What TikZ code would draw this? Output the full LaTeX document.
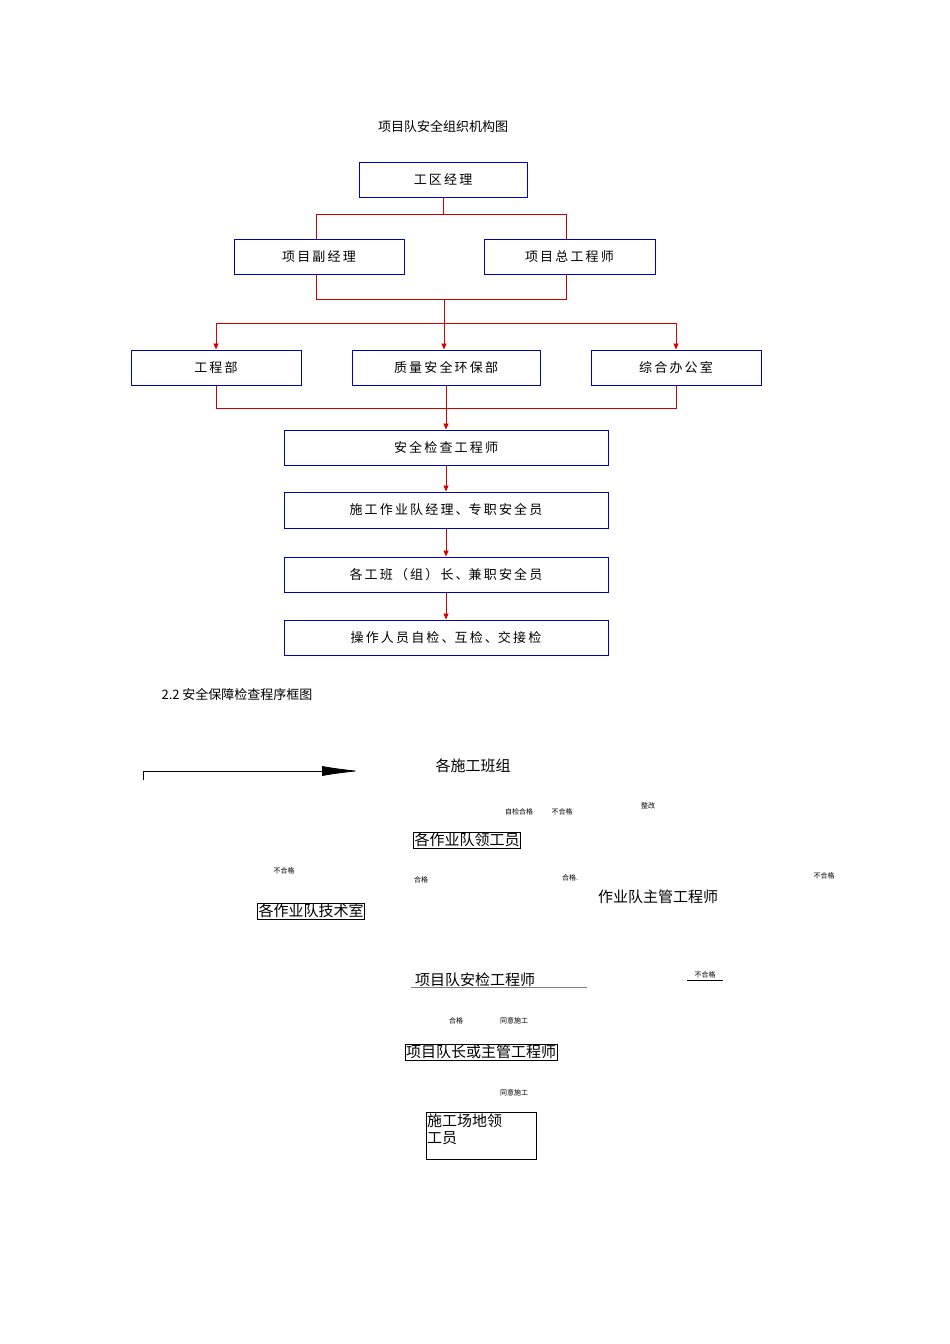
\documentclass[tikz,border=0pt]{standalone}
\usepackage{fontspec}
\setmainfont{Noto Sans CJK SC}
\usetikzlibrary{arrows.meta}
\begin{document}
\begin{tikzpicture}[x=1pt,y=-1pt,
  ob/.style={draw=blue!75!black,line width=1pt,inner sep=0pt,font=\fontsize{13}{15}\selectfont},
  rl/.style={draw=red!80!black,line width=0.9pt},
  ra/.style={rl,-{Triangle[length=6pt,width=5pt]},color=red!85!black},
  bx/.style={draw,line width=0.5pt,inner sep=1pt,font=\fontsize{15}{17}\selectfont},
  sm/.style={font=\fontsize{7}{8}\selectfont},
  bt/.style={font=\fontsize{15}{17}\selectfont}]
\useasboundingbox (0,0) rectangle (950,1344);
\node[font=\fontsize{13}{15}\selectfont] (t1) at (443,126) {项目队安全组织机构图};
\node[ob,minimum width=168,minimum height=35] (a) at (443,179.5) {工\,区\,经\,理};
\node[ob,minimum width=170,minimum height=35] (b) at (319,256.5) {项\,目\,副\,经\,理};
\node[ob,minimum width=171,minimum height=35] (c) at (569.5,256.5) {项\,目\,总\,工\,程\,师};
\node[ob,minimum width=170,minimum height=35] (d) at (216,367.5) {工\,程\,部};
\node[ob,minimum width=188,minimum height=35] (e) at (446,367.5) {质\,量\,安\,全\,环\,保\,部};
\node[ob,minimum width=170,minimum height=35] (f) at (676,367.5) {综\,合\,办\,公\,室};
\node[ob,minimum width=324,minimum height=35] (g) at (446,447.5) {安\,全\,检\,查\,工\,程\,师};
\node[ob,minimum width=324,minimum height=36] (h) at (446,510) {施\,工\,作\,业\,队\,经\,理\,、专\,职\,安\,全\,员};
\node[ob,minimum width=324,minimum height=35] (i) at (446,574.5) {各\,工\,班\,（\,组\,）\,长\,、兼\,职\,安\,全\,员};
\node[ob,minimum width=324,minimum height=35] (j) at (446,637.5) {操\,作\,人\,员\,自\,检\,、互\,检\,、交\,接\,检};
\draw[rl] (a.south) -- (443,214) -| (316,239);
\draw[rl] (443,214) -| (566,239);
\draw[rl] (316,274) |- (566,299) -- (566,274);
\coordinate (m) at (444,299);
\draw[ra] (m) -- (e.north -| m);
\draw[rl] (216,323) -- (676,323);
\draw[ra] (216,323) -- (d.north);
\draw[ra] (676,323) -- (f.north);
\draw[rl] (d.south) |- (676,408) -- (f.south);
\draw[ra] (e.south) -- (g.north);
\draw[ra] (g.south) -- (h.north);
\draw[ra] (h.south) -- (i.north);
\draw[ra] (i.south) -- (j.north);
\node[anchor=west,font=\fontsize{13}{15}\selectfont] (t2) at (158,694) {2.2 安全保障检查程序框图};
\coordinate (p0) at (143,780);
\coordinate (p1) at (360,771);
\draw[line width=0.8pt,-{Latex[length=38pt,width=10pt]}] (p0) |- (p1);
\node[bt] (k) at (473,766) {各施工班组};
\node[sm] at (519,812) {自检合格};
\node[sm] at (562,812) {不合格};
\node[sm] at (648,806) {整改};
\node[bx] (l) at (467,840) {各作业队领工员};
\node[sm] at (284,871) {不合格};
\node[sm] at (421,880) {合格};
\node[sm] at (570,878) {合格.};
\node[sm] at (824,876) {不合格};
\node[bx] (n) at (311,911) {各作业队技术室};
\node[bt] (o) at (658,897) {作业队主管工程师};
\node[bt] (q) at (475,980) {项目队安检工程师};
\draw[line width=0.5pt,gray] (q.south west) ++(0,-3) -- ++(176,0);
\node[sm] (r) at (705,975) {不合格};
\draw[line width=0.5pt] (r.south west) ++(-4,-2) -- ++(36,0);
\node[sm] at (456,1021) {合格};
\node[sm] at (514,1021) {同意施工};
\node[bx] (s) at (481,1052) {项目队长或主管工程师};
\node[sm] at (514,1093) {同意施工};
\node[draw,line width=0.5pt,minimum width=110,minimum height=47,inner sep=1pt] (u) at (481,1136) {};
\node[bt,anchor=north west,align=left,inner sep=0pt] at (427,1114) {施工场地领\\工员};
\end{tikzpicture}
\end{document}
